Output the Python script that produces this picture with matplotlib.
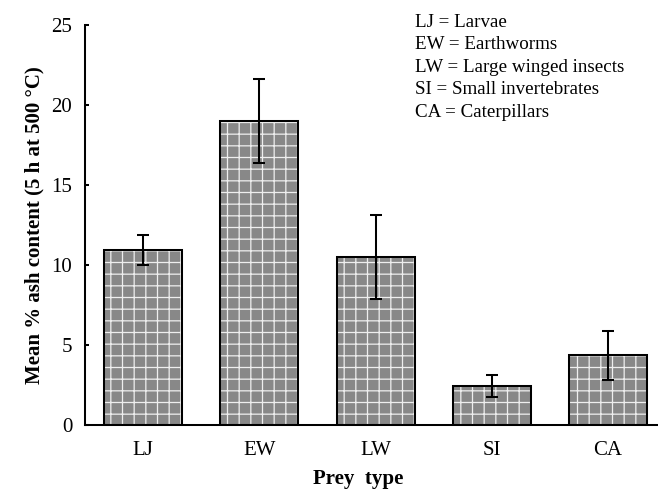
import matplotlib
matplotlib.use('Agg')
import matplotlib.pyplot as plt
import numpy as np

# prey categories, mean ash content (%) and error bar half-lengths
prey = ['LJ', 'EW', 'LW', 'SI', 'CA']
ash_mean = [10.95, 19.0, 10.5, 2.45, 4.35]
ash_err = [0.95, 2.65, 2.6, 0.7, 1.55]
key_lines = ['LJ = Larvae', 'EW = Earthworms', 'LW = Large winged insects',
             'SI = Small invertebrates', 'CA = Caterpillars']

plt.rcParams['font.family'] = ['Liberation Serif', 'DejaVu Serif']
plt.rcParams['hatch.linewidth'] = 1.3

DPI = 70
fig = plt.figure(figsize=(658 / DPI, 491 / DPI), dpi=DPI)
ax = fig.add_axes([85 / 658, 66 / 491, 1 - 85 / 658, 400 / 491])

x = np.arange(len(prey))
width = 0.67
# textured fill first, outline on top
ax.bar(x, ash_mean, width, color='#888888', edgecolor='#eeeeee', hatch='+',
       linewidth=0, zorder=2)
ax.bar(x, ash_mean, width, fill=False, edgecolor='black', linewidth=2.1, zorder=3)
ax.errorbar(x, ash_mean, yerr=ash_err, fmt='none', ecolor='black',
            elinewidth=2.1, capsize=6.5, capthick=2.1, zorder=4)

ax.set_xlim(-0.5, 4.43)
ax.set_ylim(0, 25)
ax.set_yticks([0, 5, 10, 15, 20, 25])
ax.set_xticks(x)
ax.set_xticklabels(prey)
ax.tick_params(axis='y', direction='in', length=4.5, width=2.1, labelsize=21.5, pad=13)
ax.tick_params(axis='x', length=0, labelsize=21.5, pad=16)

for side in ['top', 'right']:
    ax.spines[side].set_visible(False)
for side in ['left', 'bottom']:
    ax.spines[side].set_linewidth(2.1)

ax.set_ylabel('Mean % ash content (5 h at 500 \u00b0C)', fontsize=21.5,
              fontweight='bold', labelpad=7)
ax.set_xlabel('Prey  type', fontsize=21.5, fontweight='bold')
ax.xaxis.set_label_coords(0.477, -0.11)

fig.text(415 / 658, 1 - 14 / 491, '\n'.join(key_lines), fontsize=19.5,
         va='top', ha='left', linespacing=1.42)

fig.savefig('out.png', dpi=DPI)
